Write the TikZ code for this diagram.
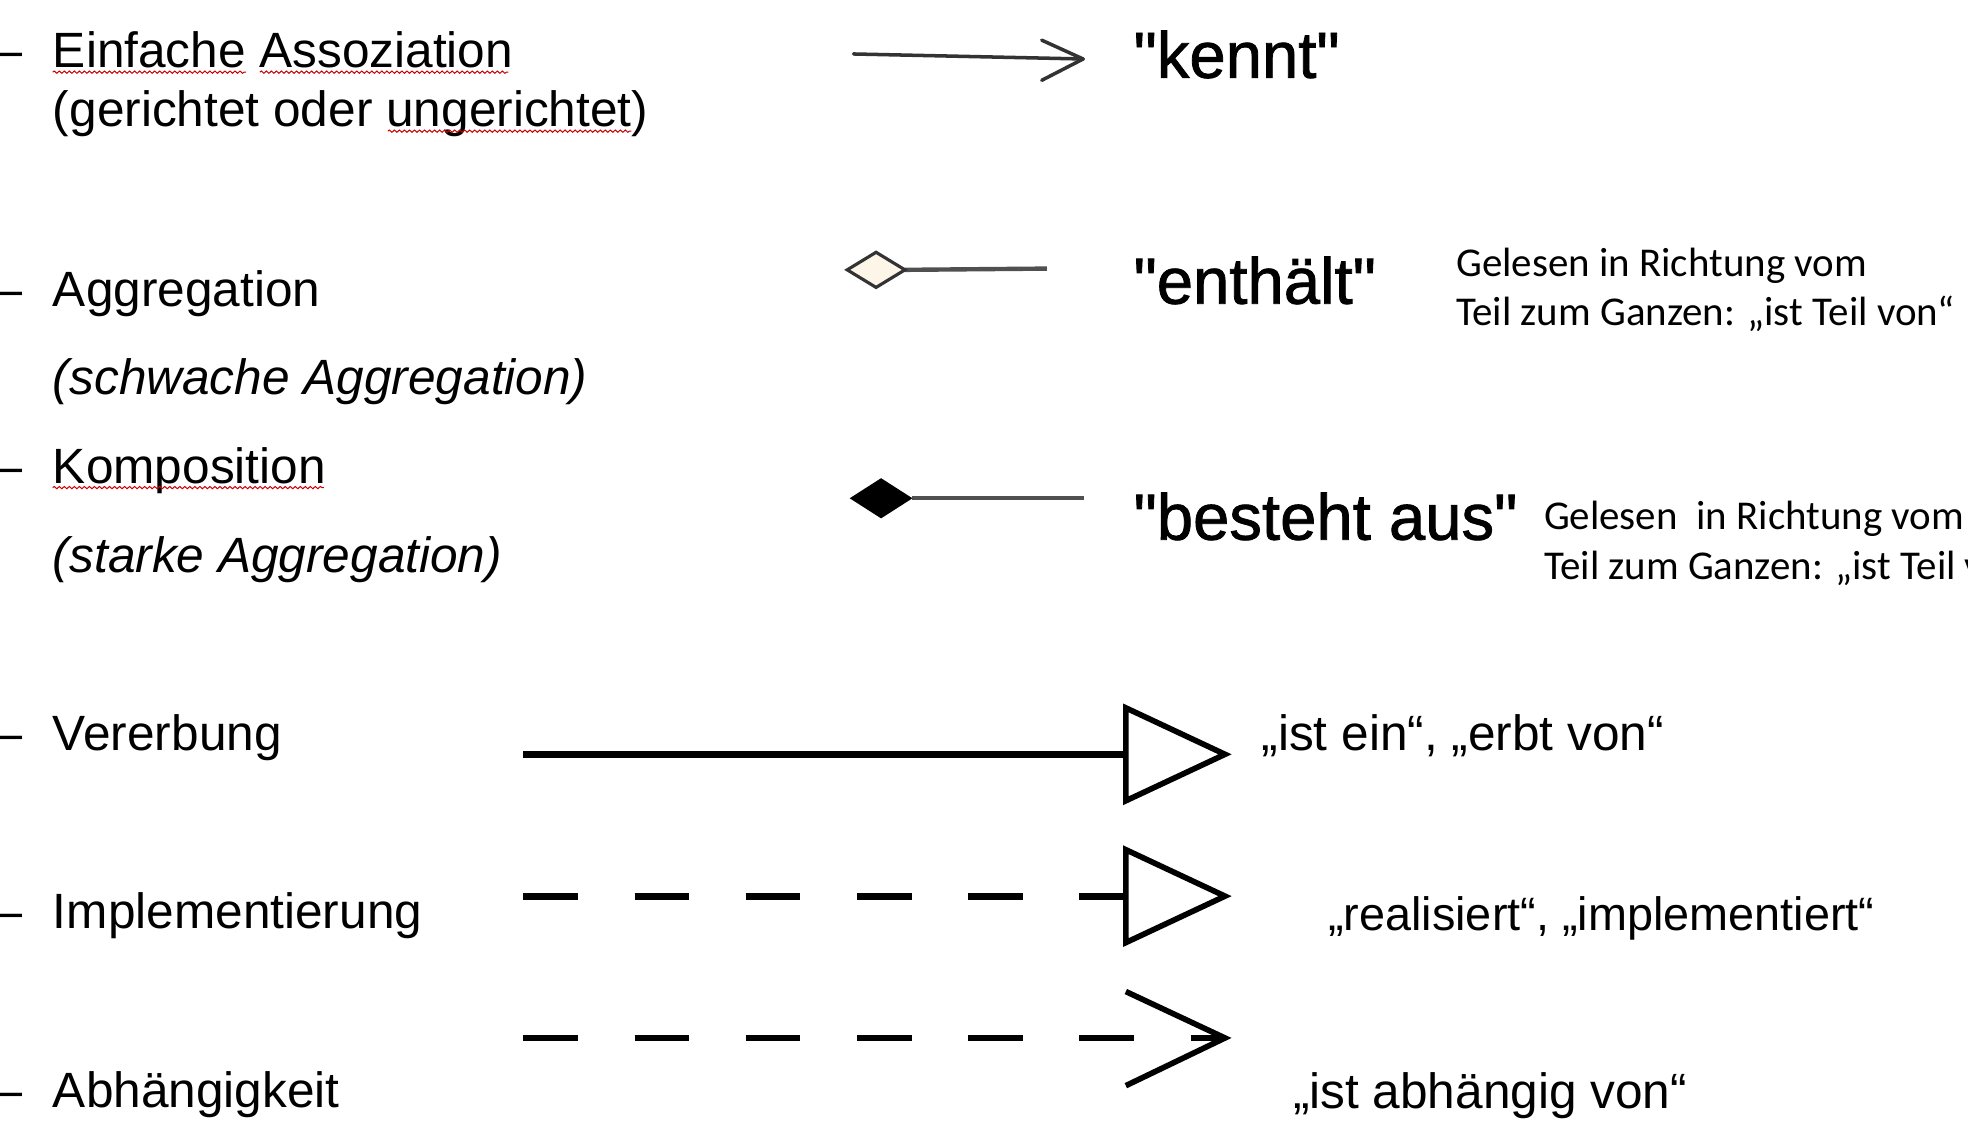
\documentclass[tikz,border=0pt]{standalone}
\usepackage{fontspec}
\setmainfont{Liberation Sans}
\newfontfamily\notefont{Carlito}
\newfontfamily\quotefont{Liberation Sans}[FakeBold=1.2]
\usetikzlibrary{decorations.pathmorphing}
\definecolor{diafill}{HTML}{FCF5E8}
\definecolor{linegray}{HTML}{505050}
\begin{document}
\begin{tikzpicture}[x=1pt,y=-1pt,
  lbl/.style={anchor=base west,inner sep=0pt,font=\fontsize{39.5}{47}\selectfont},
  ital/.style={anchor=base west,inner sep=0pt,font=\fontsize{39.5}{47}\selectfont\itshape},
  bullet/.style={anchor=base west,inner sep=0pt,font=\fontsize{39.5}{47}\selectfont},
  quoted/.style={anchor=base west,inner sep=0pt,font=\quotefont\fontsize{52}{60}\selectfont},
  note/.style={anchor=base west,inner sep=0pt,font=\notefont\fontsize{32.6}{39.5}\selectfont},
  spell/.style={draw=red!80!black,line width=0.8pt,decorate,decoration={snake,amplitude=0.9pt,segment length=4pt}},
  assoc/.style={draw=black!80,line width=2.8pt,line cap=round,line join=round},
  aggline/.style={draw=linegray,line width=3.5pt},
  solidline/.style={draw=black,line width=5.5pt},
  dashline/.style={draw=black,line width=5.5pt,dash pattern=on 43.5pt off 45.1pt},
  headtri/.style={draw=black,line width=4.5pt,line join=miter,fill=white},
  headopen/.style={draw=black,line width=4.5pt,line join=miter},
]
\useasboundingbox (0,0) rectangle (1568,899);
\clip (0,0) rectangle (1568,899);
\fill[white] (0,0) rectangle (1568,899);

% left column
\node[bullet] (d1) at (0,54) {\scalebox{0.8}[1]{–}};
\node[bullet] (d2) at (0,244) {\scalebox{0.8}[1]{–}};
\node[bullet] (d3) at (0,385) {\scalebox{0.8}[1]{–}};
\node[bullet] (d4) at (0,598) {\scalebox{0.8}[1]{–}};
\node[bullet] (d5) at (0,740) {\scalebox{0.8}[1]{–}};
\node[bullet] (d6) at (0,882) {\scalebox{0.8}[1]{–}};
\node[lbl] (t1a) at (42,54) {Einfache Assoziation};
\node[lbl] (t1b) at (42,101) {(gerichtet oder ungerichtet)};
\node[lbl] (t2a) at (42,244) {Aggregation};
\node[ital] (t2b) at (42,314) {(schwache Aggregation)};
\node[lbl] (t3a) at (42,385) {Komposition};
\node[ital] (t3b) at (42,456) {(starke Aggregation)};
\node[lbl] (t4) at (42,598) {Vererbung};
\node[lbl] (t5) at (42,740) {Implementierung};
\node[lbl] (t6) at (42,882) {Abhängigkeit};

% spell-check underlines
\draw[spell] (42,57.5) -- (196,57.5);
\draw[spell] (207,57.5) -- (405,57.5);
\draw[spell] (309,104.5) -- (503,104.5);
\draw[spell] (42,388.5) -- (258,388.5);

% association
\coordinate (a1s) at (680,43);
\coordinate (a1e) at (863,47);
\draw[assoc] (a1s) -- (a1e);
\draw[assoc] (a1e) ++(-33,-15) -- (a1e) -- ++(-33,17);

% aggregation
\coordinate (g1l) at (675,215);
\coordinate (g1r) at (721,215);
\coordinate (g1e) at (834,214);
\draw[aggline] (g1r) -- (g1e);
\draw[draw=black!80,line width=2.5pt,fill=diafill,line join=miter] (g1l) -- (698,201) -- (g1r) -- (698,229) -- cycle;

% composition
\coordinate (c1l) at (677,397);
\coordinate (c1r) at (727,397);
\coordinate (c1e) at (864,397);
\draw[aggline] (c1r) -- (c1e);
\fill[black] (c1l) -- (702,381) -- (c1r) -- (702,413) -- cycle;

% inheritance
\coordinate (i1s) at (417,601);
\coordinate (i1b) at (897,601);
\coordinate (i1t) at (976,601);
\draw[solidline] (i1s) -- (i1b);
\draw[headtri] (897,564) -- (i1t) -- (897,638) -- cycle;

% implementation
\coordinate (m1s) at (417,714);
\coordinate (m1b) at (897,714);
\coordinate (m1t) at (976,714);
\draw[dashline] (m1s) -- (m1b);
\draw[headtri] (897,677) -- (m1t) -- (897,751) -- cycle;

% dependency
\coordinate (p1s) at (417,827);
\coordinate (p1t) at (976,827);
\draw[dashline] (p1s) -- (p1t);
\draw[headopen] (p1t) ++(-79,-37) -- (p1t) -- ++(-79,38);

% right column
\node[quoted] (q1) at (903,62) {"kennt"};
\node[quoted] (q2) at (903,242) {"enthält"};
\node[quoted] (q3) at (903,430) {"besteht aus"};
\node[note] (n1a) at (1160,220) {Gelesen in Richtung vom};
\node[note] (n1b) at (1160,259) {Teil zum Ganzen: „ist Teil von“};
\node[note] (n2a) at (1230,422) {Gelesen\ \ in Richtung vom};
\node[note] (n2b) at (1230,462) {Teil zum Ganzen: „ist Teil von“};
\node[lbl] (r4) at (1005,598) {„ist ein“, „erbt von“};
\node[lbl,font=\fontsize{37.3}{45}\selectfont] (r5) at (1058,741) {„realisiert“, „implementiert“};
\node[lbl] (r6) at (1030,883) {„ist abhängig von“};
\end{tikzpicture}
\end{document}
